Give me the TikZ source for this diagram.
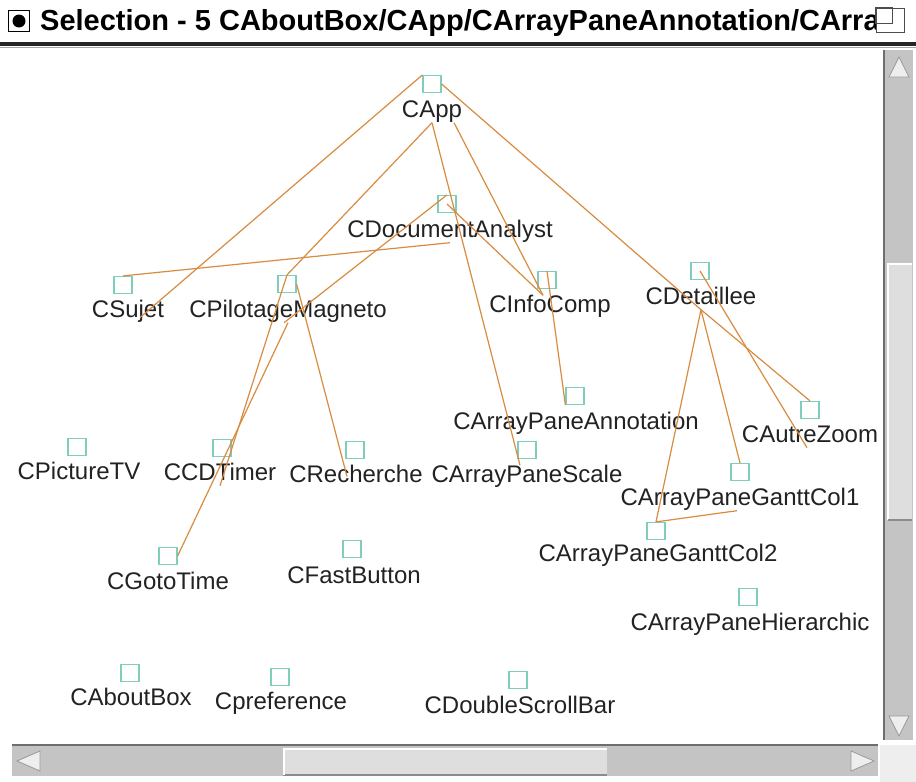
\documentclass[tikz,border=0pt]{standalone}
\usepackage{fontspec}
\setmainfont{Liberation Sans}
\definecolor{boxc}{HTML}{7FCDBB}
\definecolor{edgec}{HTML}{D88C40}
\definecolor{txt}{HTML}{222222}
\definecolor{sbtrough}{HTML}{C4C4C4}
\definecolor{sbthumb}{HTML}{DEDEDE}
\definecolor{sbdark}{HTML}{6E6E6E}
\definecolor{sblight}{HTML}{EEEEEE}
\begin{document}
\begin{tikzpicture}[x=1pt,y=-1pt,
  cls/.style={draw=boxc, line width=1.2pt, minimum width=18pt, minimum height=17pt, inner sep=0pt},
  lbl/.style={text=txt, font=\fontsize{24}{26}\selectfont, inner sep=0pt, anchor=base, text height=17pt, text depth=5pt},
  rel/.style={draw=edgec, line width=1.2pt},
  trough/.style={fill=sbtrough, draw=none},
  thumb/.style={fill=sbthumb, draw=none},
  arrowtri/.style={fill=sblight, draw=sbdark!70, line width=0.8pt}]
\useasboundingbox (0,0) rectangle (916,782);
\fill[white] (0,0) rectangle (916,782);
% ---------- title bar ----------
\node[draw=black, line width=1.5pt, minimum width=21pt, minimum height=21pt, inner sep=0pt] (radio) at (19,21) {};
\fill[black] (radio.center) circle (6.5);
\node[anchor=base west, inner sep=0pt, font=\fontsize{29}{31}\selectfont\bfseries, text=black] (title) at (40,30) {Selection - 5 CAboutBox/CApp/CArrayPaneAnnotation/CArra};
\node[fill=white, draw=black!70, line width=1pt, minimum width=28pt, minimum height=24pt, inner sep=0pt] (winicon) at (890,20) {};
\draw[black!70, line width=1pt] (winicon.north west) rectangle ([xshift=-12pt,yshift=9pt]winicon.south east);
\draw[black!85, line width=3.5pt] (0,44) -- (916,44);
\draw[black!35, line width=1.5pt] (0,47.5) -- (916,47.5);
% ---------- vertical scrollbar ----------
\fill[trough] (884,50) rectangle (913,740);
\draw[sbdark, line width=2pt] (884,50) -- (884,740);
\fill[thumb] (887,263) rectangle (912,520);
\draw[white, line width=1.5pt] (888,520) -- (888,264) -- (912,264);
\draw[sbdark!80, line width=1.5pt] (888,520) -- (912,520);
\draw[arrowtri] (899,57) -- (889,77) -- (909,77) -- cycle;
\draw[arrowtri] (899,736) -- (889,716) -- (909,716) -- cycle;
% ---------- horizontal scrollbar ----------
\fill[trough] (12,745) rectangle (878,776);
\draw[sbdark, line width=2.5pt] (12,745) -- (878,745);
\fill[thumb] (283,748) rectangle (607,776);
\draw[sbdark!80, line width=2pt] (283,775) -- (607,775);
\draw[white, line width=1.5pt] (284,775) -- (284,749) -- (607,749);
\draw[arrowtri] (17,761) -- (40,751) -- (40,771) -- cycle;
\draw[arrowtri] (874,761) -- (851,751) -- (851,771) -- cycle;
\fill[sblight] (880,745) rectangle (916,782);
% ---------- class boxes ----------
\node[cls] (app) at (432,84) {};
\node[cls] (doc) at (447,204) {};
\node[cls] (suj) at (123,285) {};
\node[cls] (pil) at (287,284) {};
\node[cls] (ifc) at (547,280) {};
\node[cls] (det) at (700,271) {};
\node[cls] (apa) at (575,396) {};
\node[cls] (atz) at (810,410) {};
\node[cls] (ptv) at (77,447) {};
\node[cls] (cdt) at (222,448) {};
\node[cls] (rec) at (355,450) {};
\node[cls] (aps) at (527,450) {};
\node[cls] (gc1) at (740,472) {};
\node[cls] (gc2) at (656,531) {};
\node[cls] (goto) at (168,556) {};
\node[cls] (fbt) at (352,549) {};
\node[cls] (aph) at (748,597) {};
\node[cls] (abx) at (130,673) {};
\node[cls] (prf) at (280,677) {};
\node[cls] (dsb) at (518,680) {};
% ---------- labels ----------
\node[lbl] (appL) at (432,117.5) {CApp};
\node[lbl] (docL) at (450,237.5) {CDocumentAnalyst};
\node[lbl] (sujL) at (128,317.5) {CSujet};
\node[lbl] (pilL) at (288,317.5) {CPilotageMagneto};
\node[lbl] (ifcL) at (550,312.5) {CInfoComp};
\node[lbl] (detL) at (701,304.5) {CDetaillee};
\node[lbl] (apaL) at (576,429.5) {CArrayPaneAnnotation};
\node[lbl] (atzL) at (810,442.5) {CAutreZoom};
\node[lbl] (ptvL) at (79,479.5) {CPictureTV};
\node[lbl] (cdtL) at (220,480.5) {CCDTimer};
\node[lbl] (recL) at (356,482.5) {CRecherche};
\node[lbl] (apsL) at (527,482.5) {CArrayPaneScale};
\node[lbl] (gc1L) at (740,505.5) {CArrayPaneGanttCol1};
\node[lbl] (gc2L) at (658,561.5) {CArrayPaneGanttCol2};
\node[lbl] (gotoL) at (168,589.5) {CGotoTime};
\node[lbl] (fbtL) at (354,583.5) {CFastButton};
\node[lbl] (aphL) at (750,630.5) {CArrayPaneHierarchic};
\node[lbl] (abxL) at (131,705.5) {CAboutBox};
\node[lbl] (prfL) at (281,709.5) {Cpreference};
\node[lbl] (dsbL) at (520,713.5) {CDoubleScrollBar};
% ---------- relations ----------
\draw[rel] (app.north west) -- ([xshift=12pt]sujL.base);
\draw[rel] (appL.south) -- (pil.north);
\draw[rel] (appL.south) -- ([xshift=-7pt]apsL.north);
\draw[rel] ([xshift=22pt]appL.south) -- ([xshift=-7pt]ifcL.north);
\draw[rel] (app.east) -- (detL.south);
\draw[rel] (docL.south) -- (suj.north);
\draw[rel] (doc.north) -- ([xshift=-4pt]pilL.south);
\draw[rel] (doc.center) -- ([xshift=-7pt]ifcL.north);
\draw[rel] (ifc.north) -- (apa.south west);
\draw[rel] (det.center) -- ([xshift=-3pt]atzL.south);
\draw[rel] (detL.south) -- (atz.north);
\draw[rel] (detL.south) -- (gc2.north);
\draw[rel] (detL.south) -- (gc1.north);
\draw[rel] (gc2.north) -- ([xshift=-3pt]gc1L.south);
\draw[rel] (pil.north) -- (cdtL.south);
\draw[rel] (pilL.south) -- (goto.east);
\draw[rel] (pil.east) -- ([xshift=-9pt]recL.center);
\end{tikzpicture}
\end{document}
